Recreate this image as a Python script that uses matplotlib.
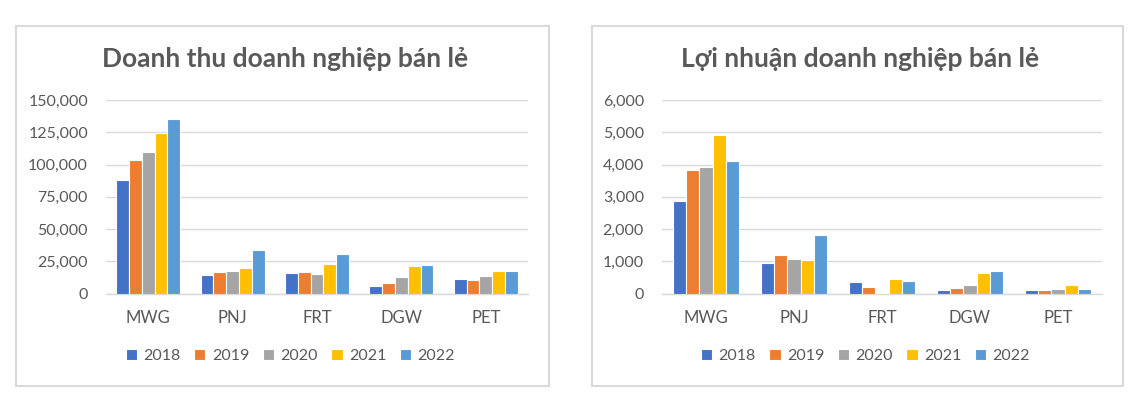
import matplotlib.pyplot as plt
from matplotlib.patches import Rectangle
import numpy as np

# du lieu doc tu hinh
cong_ty = ['MWG', 'PNJ', 'FRT', 'DGW', 'PET']
nam = ['2018', '2019', '2020', '2021', '2022']
mau = ['#4472C4', '#ED7D31', '#A5A5A5', '#FFC000', '#5B9BD5']

# doanh thu (ty dong), moi list la mot nam
dt_2018 = [88000, 14500, 16000, 6000, 11100]
dt_2019 = [103400, 17000, 16800, 8500, 10300]
dt_2020 = [110000, 17600, 15000, 12700, 13400]
dt_2021 = [124600, 19400, 23000, 21500, 17800]
dt_2022 = [135000, 34100, 30500, 22200, 17800]

# loi nhuan (ty dong)
ln_2018 = [2880, 950, 350, 100, 100]
ln_2019 = [3840, 1200, 205, 165, 100]
ln_2020 = [3920, 1065, 5, 260, 135]
ln_2021 = [4900, 1025, 445, 650, 260]
ln_2022 = [4100, 1810, 385, 685, 125]

doanh_thu = [dt_2018, dt_2019, dt_2020, dt_2021, dt_2022]
loi_nhuan = [ln_2018, ln_2019, ln_2020, ln_2021, ln_2022]

plt.rcParams['font.family'] = ['Lato', 'Noto Sans', 'DejaVu Sans']
chu = '#595959'
luoi = '#d9d9d9'

W, H = 1141, 397
fig = plt.figure(figsize=(W / 100, H / 100), dpi=100)

def ve(rect_ax, khung, tieu_de, du_lieu, ymax, buoc):
    # khung vien ngoai cua chart
    x0, x1 = khung
    fig.patches.append(Rectangle((x0 / W, 1 - 386 / H), (x1 - x0) / W, 360 / H,
                                 transform=fig.transFigure, fill=False,
                                 edgecolor=luoi, linewidth=1.5))
    ax = fig.add_axes(rect_ax)
    x = np.arange(len(cong_ty))
    rong = 0.152
    cot = []
    for i in range(len(nam)):
        b = ax.bar(x + (i - 2) * rong, du_lieu[i], rong, color=mau[i],
                   edgecolor='white', linewidth=0.8, label=nam[i], zorder=3)
        cot.append(b)
    ax.set_xlim(-0.5, 4.5)
    ax.set_ylim(0, ymax)
    ax.set_yticks(np.arange(0, ymax + 1, buoc))
    ax.set_yticklabels(['{:,}'.format(int(v)) for v in np.arange(0, ymax + 1, buoc)])
    ax.set_xticks(x)
    ax.set_xticklabels(cong_ty, fontsize=12)
    ax.grid(axis='y', color=luoi, linewidth=1, zorder=0)
    for s in ['top', 'right', 'left']:
        ax.spines[s].set_visible(False)
    ax.spines['bottom'].set_color(luoi)
    ax.spines['bottom'].set_linewidth(1)
    ax.tick_params(axis='both', length=0, colors=chu)
    ax.tick_params(axis='y', pad=13, labelsize=11.5)
    ax.tick_params(axis='x', pad=12, labelsize=12)
    cx = (x0 + x1) / 2 / W + 3 / W
    fig.text(cx, 1 - 59 / H, tieu_de, ha='center', va='center', fontsize=19,
             fontweight='bold', color=chu)
    fig.legend(handles=cot, labels=nam, loc='center', bbox_to_anchor=(cx + 5 / W, 1 - 356 / H),
               ncol=5, frameon=False, fontsize=11.5, labelcolor=chu,
               handlelength=0.7, handleheight=0.7, handletextpad=0.4,
               columnspacing=0.85)
    return ax

ve([106 / W, 1 - 293.5 / H, 422 / W, 193.5 / H], (16, 549),
   'Doanh thu doanh nghiệp bán lẻ', doanh_thu, 150000, 25000)
ve([662 / W, 1 - 293.5 / H, 440 / W, 193.5 / H], (592, 1123),
   'Lợi nhuận doanh nghiệp bán lẻ', loi_nhuan, 6000, 1000)

plt.savefig('out.png', dpi=100)
